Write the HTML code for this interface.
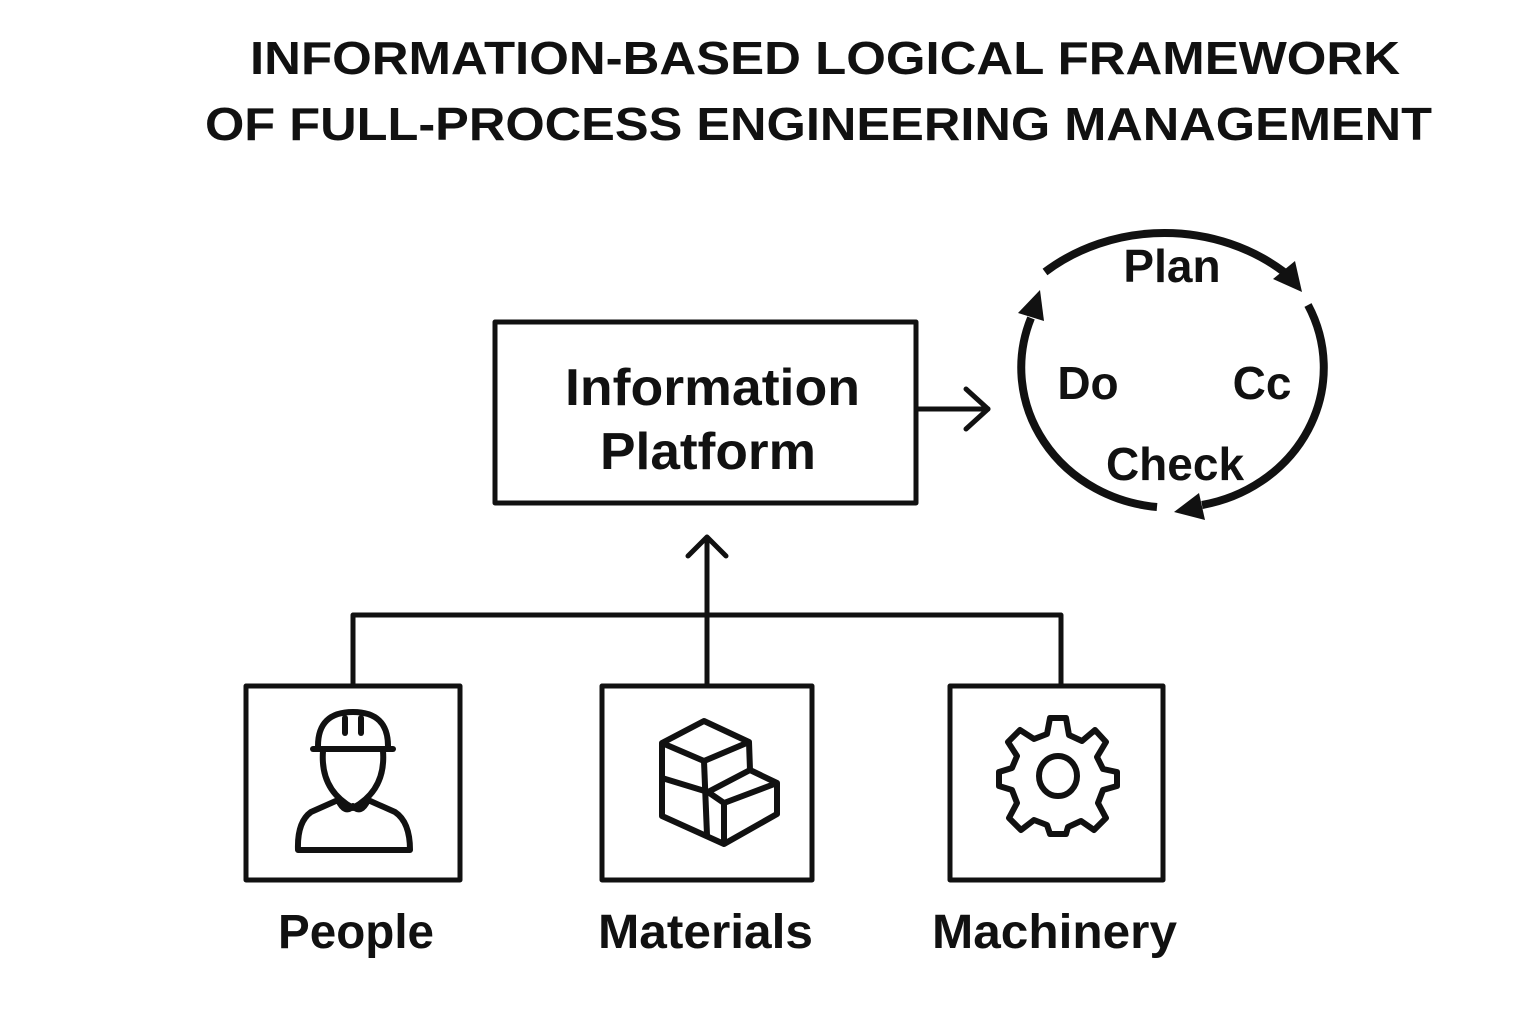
<!DOCTYPE html>
<html><head><meta charset="utf-8"><style>
html,body{margin:0;padding:0;background:#fff;}
svg{display:block;}
text{font-family:"Liberation Sans",sans-serif;font-weight:bold;fill:#111;}
</style></head><body>
<svg width="1536" height="1024" viewBox="0 0 1536 1024" xmlns="http://www.w3.org/2000/svg">
<text x="250" y="74" font-size="46" textLength="1150" lengthAdjust="spacingAndGlyphs">INFORMATION-BASED LOGICAL FRAMEWORK</text>
<text x="205" y="140" font-size="46" textLength="1227" lengthAdjust="spacingAndGlyphs">OF FULL-PROCESS ENGINEERING MANAGEMENT</text>

<g fill="none" stroke="#111" stroke-width="5" stroke-linecap="round" stroke-linejoin="round">
<rect x="495" y="322" width="421" height="181"/>
<line x1="916" y1="409" x2="988" y2="409"/>
<polyline points="966,389 988,409 966,429"/>
<line x1="707" y1="685" x2="707" y2="538"/>
<polyline points="688,556 707,537 726,556"/>
<polyline points="353,686 353,615 1061,615 1061,686"/>
<rect x="246" y="686" width="214" height="194"/>
<rect x="602" y="686" width="210" height="194"/>
<rect x="950" y="686" width="213" height="194"/>
</g>
<text x="565" y="405" font-size="52" textLength="295" lengthAdjust="spacingAndGlyphs">Information</text>
<text x="600" y="469" font-size="52" textLength="216" lengthAdjust="spacingAndGlyphs">Platform</text>
<text x="278" y="948" font-size="48" textLength="156" lengthAdjust="spacingAndGlyphs">People</text>
<text x="598" y="948" font-size="48" textLength="215" lengthAdjust="spacingAndGlyphs">Materials</text>
<text x="932" y="948" font-size="48" textLength="245" lengthAdjust="spacingAndGlyphs">Machinery</text>

<!-- cycle -->
<g fill="none" stroke="#111" stroke-width="8" stroke-linecap="butt">
<path d="M1045,272 A185,165 0 0 1 1284,272"/>
<path d="M1308,305 A150,140 0 0 1 1202,505"/>
<path d="M1157,507 A150,140 0 0 1 1031,318"/>
</g>
<g fill="#111">
<polygon points="1302,292 1295,261 1273,279"/>
<polygon points="1174,512 1199,493 1205,520"/>
<polygon points="1040,290 1044,321 1018,313"/>
</g>
<text x="1172" y="282" font-size="46" text-anchor="middle">Plan</text>
<text x="1088" y="399" font-size="46" text-anchor="middle">Do</text>
<text x="1262" y="399" font-size="46" text-anchor="middle">Cc</text>
<text x="1175" y="480" font-size="46" text-anchor="middle">Check</text>

<!-- people icon -->
<g fill="none" stroke="#111" stroke-width="6" stroke-linejoin="round" stroke-linecap="round">
<path d="M318,746 Q318,712 353,712 Q388,712 388,746"/>
<line x1="313" y1="749" x2="393" y2="749"/>
<line x1="345" y1="718" x2="345" y2="733"/><line x1="361" y1="718" x2="361" y2="733"/>
<path d="M323,751 Q320,790 353,808 Q386,790 383,751"/>
<path d="M338,800 Q345,815 353,806 Q361,815 368,800 L395,812 Q410,822 410,850 L298,850 Q297,822 311,812 Z"/>
</g>
<!-- boxes icon -->
<g fill="none" stroke="#111" stroke-width="6" stroke-linejoin="round">
<polygon points="704,721 662,743 662,816 724,844 777,814 777,783 750,770 749,742"/>
<polyline points="662,743 704,761 749,742"/>
<line x1="704" y1="761" x2="707" y2="835"/>
<polyline points="662,778 708,792 750,770"/>
<polyline points="708,792 724,803 777,783"/>
<line x1="724" y1="803" x2="724" y2="844"/>
</g>
<!-- gear icon -->
<g fill="none" stroke="#111" stroke-width="6" stroke-linejoin="round">
<path d="M1050,718 L1066,718 L1069,735 L1082,741 L1095,730 L1106,742 L1097,757 L1103,769 L1117,772 L1117,786 L1103,790 L1098,803 L1106,818 L1094,830 L1081,821 L1068,827 L1066,834 L1050,834 L1047,825 L1034,820 L1021,830 L1009,818 L1017,803 L1012,790 L999,786 L999,772 L1012,768 L1017,756 L1008,742 L1020,730 L1034,739 L1047,734 Z"/>
<ellipse cx="1058" cy="776" rx="19" ry="20"/>
</g>
</svg>
</body></html>
